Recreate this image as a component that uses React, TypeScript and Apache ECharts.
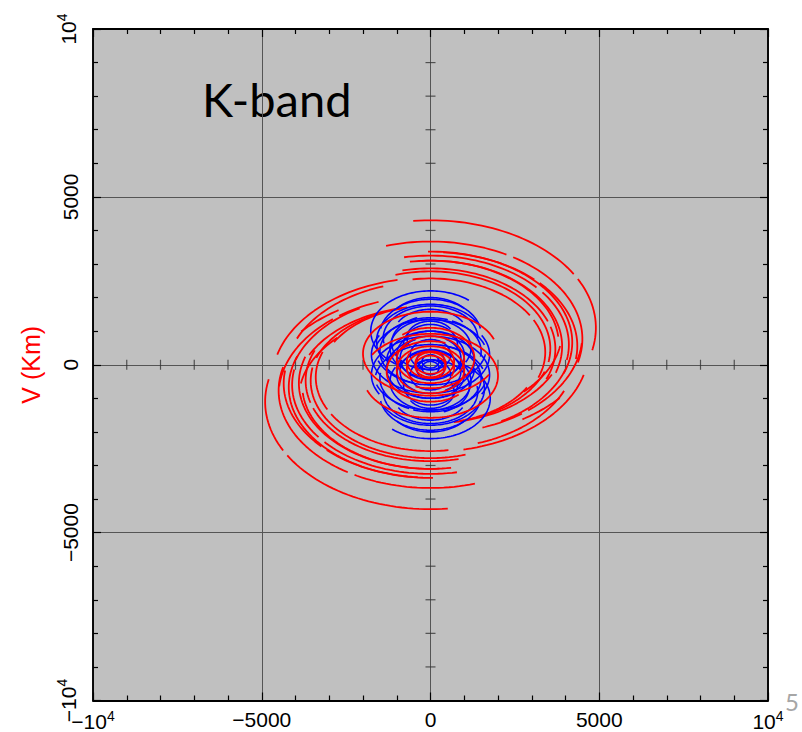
import React, { useEffect, useRef } from "react";
import * as echarts from "echarts";

// Each UV track: [semi-axis along U, semi-axis along V, centre offset in V, hour-angle phase segments in degrees]
// u = A·sin(h), v = C + B·cos(h); every track is also drawn at its conjugate point (-u, -v).
type Track = [number, number, number, number[][]];

const redOuterTracks: Track[] = [
  [4900, 3200, 1100, [[-6, 60], [63, 102]]],
  [4500, 2900, 770, [[-17, 30], [33, 104]]],
  [4200, 2700, 670, [[-1, 110]]],
  [4100, 2650, 600, [[-11, 50], [54, 100]]],
  [3900, 2550, 550, [[-9, 108]]],
  [3700, 2400, 470, [[-13, 70], [74, 112]]],
  [3550, 2300, 480, [[-17, 100]]],
  [3400, 2200, 370, [[-9, 60], [64, 110]]],
  [4350, 2800, 560, [[5, 45], [48, 98]]],
  [3800, 2480, 620, [[-4, 85]]],
];

const redCrossTracks: Track[] = [
  [4700, 3090, -495, [[-75, -12]]],
  [4300, 2810, -320, [[-67, -19]]],
  [5000, 3250, -1100, [[-50, -33]]],
  [4000, 2600, -850, [[-64, -10]]],
  [3600, 2350, -600, [[-70, -25]]],
  [4500, 2950, -900, [[-85, -40], [-37, -20]]],
  [3300, 2150, -400, [[-60, -15]]],
  [3900, 2550, -1000, [[-80, -45]]],
  [4200, 2750, -700, [[-72, -30]]],
];

const blueTracks: Track[] = [
  [1770, 1200, 1000, [[-150, 40]]],
  [1600, 1100, 700, [[-120, 60]]],
  [1400, 950, 800, [[-100, 90]]],
  [1500, 1000, 400, [[-160, 20], [25, 100]]],
  [1200, 850, 500, [[-130, 120]]],
  [1000, 700, 300, [[0, 360]]],
  [1300, 900, 100, [[-90, 160]]],
  [800, 600, 600, [[-100, 100]]],
  [600, 450, 300, [[0, 360]]],
  [400, 300, 150, [[0, 360]]],
  [1700, 1150, 200, [[-70, 70]]],
  [900, 650, -200, [[-150, 150]]],
  [250, 200, 100, [[0, 360]]],
  [1100, 750, 900, [[-60, 60]]],
  [1750, 1150, -300, [[-120, 120]]],
  [1500, 1050, 900, [[-80, 80]]],
  [1300, 900, 1100, [[-50, 50]]],
  [1650, 1100, 500, [[100, 250]]],
  [1150, 800, 650, [[-170, -20]]],
  [700, 500, 800, [[-120, 60]]],
];

const redInnerTracks: Track[] = [
  [2000, 1250, -330, [[-60, 250]]],
  [1000, 700, -150, [[0, 360]]],
  [700, 500, 100, [[30, 300]]],
  [1300, 900, 200, [[-40, 200]]],
  [450, 320, -50, [[0, 360]]],
];

const tickValues = [-10000, -5000, 0, 5000, 10000];
const tickMain = ["\u221210", "\u22125000", "0", "5000", "10"];
const tickExp = ["4", "", "", "", "4"];
const centreTickValues = [
  -9000, -8000, -7000, -6000, -4000, -3000, -2000, -1000,
  1000, 2000, 3000, 4000, 6000, 7000, 8000, 9000,
];

const RED = "#ff0000";
const BLUE = "#0000ff";

function trackSeries(tracks: Track[], color: string, z: number, width: number) {
  const out: any[] = [];
  tracks.forEach(([a, b, c, segs]) => {
    segs.forEach(([h1, h2]) => {
      const pts: number[][] = [];
      const conj: number[][] = [];
      const step = 2;
      for (let h = h1; ; h += step) {
        const hh = Math.min(h, h2);
        const r = (hh * Math.PI) / 180;
        const u = a * Math.sin(r);
        const v = c + b * Math.cos(r);
        pts.push([u, v]);
        conj.push([-u, -v]);
        if (hh >= h2) break;
      }
      [pts, conj].forEach((d) =>
        out.push({
          type: "line",
          data: d,
          showSymbol: false,
          symbol: "none",
          silent: true,
          z,
          lineStyle: { color, width },
        })
      );
    });
  });
  return out;
}

function labelFor(value: number) {
  const i = tickValues.indexOf(value);
  if (i < 0) return "";
  return tickExp[i] ? `{b|${tickMain[i]}}{s|${tickExp[i]}}` : `{b|${tickMain[i]}}`;
}

const rich = {
  b: { fontSize: 21, fontFamily: "Liberation Sans", color: "#000" },
  s: { fontSize: 14, fontFamily: "Liberation Sans", color: "#000", padding: [0, 0, 12, 0] },
};

export default function App() {
  const ref = useRef<HTMLDivElement>(null);
  useEffect(() => {
    if (!ref.current) return;
    const chart = echarts.init(ref.current, undefined, { renderer: "svg" });
    const baseAxis = {
      type: "value",
      min: -10000,
      max: 10000,
      interval: 5000,
      axisLine: { show: true, onZero: false, lineStyle: { color: "#000", width: 1.8 } },
      axisTick: { show: true, inside: true, length: 8, lineStyle: { color: "#000", width: 1.2 } },
      minorTick: { show: true, splitNumber: 5, length: 5, lineStyle: { color: "#000", width: 1.2 } },
    };
    const option: any = {
      animation: false,
      backgroundColor: "#fff",
      grid: {
        left: 93,
        right: 34,
        top: 29,
        bottom: 27,
        show: true,
        backgroundColor: "#c0c0c0",
        borderColor: "#000",
        borderWidth: 1,
        containLabel: false,
      },
      xAxis: [
        {
          ...baseAxis,
          position: "bottom",
          splitLine: { show: true, lineStyle: { color: "#555", width: 1 } },
          axisLabel: { show: true, margin: 8, formatter: labelFor, rich },
        },
        {
          ...baseAxis,
          position: "top",
          splitLine: { show: false },
          axisLabel: { show: false },
        },
      ],
      yAxis: [
        {
          ...baseAxis,
          position: "left",
          name: "V (Km)",
          nameLocation: "middle",
          nameRotate: 90,
          nameGap: 50,
          nameTextStyle: { color: RED, fontSize: 25, fontFamily: "Liberation Sans" },
          splitLine: { show: true, lineStyle: { color: "#555", width: 1 } },
          axisLabel: { show: true, rotate: 90, margin: 12, formatter: labelFor, rich },
        },
        {
          ...baseAxis,
          position: "right",
          splitLine: { show: false },
          axisLabel: { show: false },
        },
      ],
      graphic: [
        {
          type: "text",
          left: 202,
          top: 75,
          style: { text: "K-band", fontSize: 47, fontFamily: "Lato", fill: "#000" },
        },
        {
          type: "text",
          left: 785,
          top: 689,
          style: { text: "5", fontSize: 24, fontFamily: "Lato", fill: "#a6a6a6" },
        },
      ],
      series: [
        {
          type: "scatter",
          data: centreTickValues.map((t) => [0, t]),
          symbol: "rect",
          symbolSize: [10, 1.2],
          itemStyle: { color: "#333" },
          silent: true,
          z: 1,
        },
        {
          type: "scatter",
          data: centreTickValues.map((t) => [t, 0]),
          symbol: "rect",
          symbolSize: [1.2, 10],
          itemStyle: { color: "#333" },
          silent: true,
          z: 1,
        },
        ...trackSeries(redOuterTracks, RED, 2, 1.8),
        ...trackSeries(redCrossTracks, RED, 2, 1.8),
        ...trackSeries(blueTracks, BLUE, 3, 1.6),
        ...trackSeries(redInnerTracks, RED, 4, 1.8),
      ],
    };
    chart.setOption(option);
    return () => chart.dispose();
  }, []);
  return <div ref={ref} style={{ width: 802, height: 732, position: "absolute", left: 0, top: 0 }} />;
}
